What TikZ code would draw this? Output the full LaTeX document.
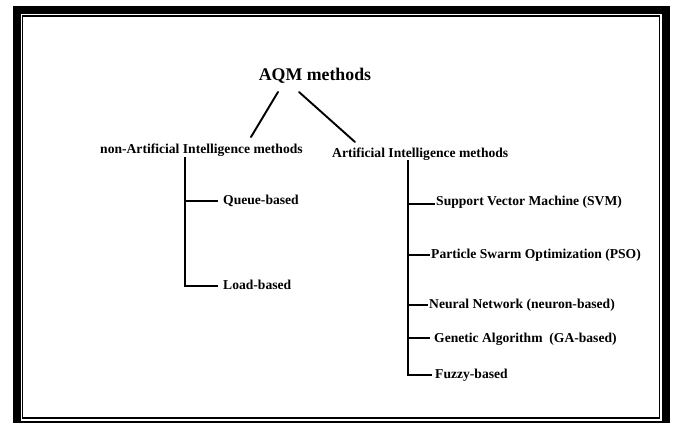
\documentclass[tikz,border=0pt]{standalone}
\usepackage{fontspec}
\setmainfont{Liberation Serif}
\begin{document}
\begin{tikzpicture}[x=1pt,y=-1pt,
  lbl/.style={inner sep=0pt,anchor=base west,font=\fontsize{13.6}{16}\selectfont\bfseries},
  title/.style={inner sep=0pt,anchor=base,font=\fontsize{17.8}{20}\selectfont\bfseries},
  tree/.style={line width=1.9pt,line cap=butt},
  slant/.style={line width=1.9pt,line cap=round}]
\useasboundingbox (0,0) rectangle (673,423);
% frame
\draw[line width=8pt] (16.5,10.3) rectangle (666.3,424.5);
\draw[line width=1.7pt] (22.5,16) rectangle (659.5,418.3);
% nodes
\node[title] (aqm) at (315,80) {AQM methods};
\node[lbl] (nonai) at (100,153) {non-Artificial Intelligence methods};
\node[lbl] (ai) at (332,157) {Artificial Intelligence methods};
\node[lbl] (queue) at (223,204) {Queue-based};
\node[lbl] (load) at (223,289) {Load-based};
\node[lbl] (svm) at (436,205) {Support Vector Machine (SVM)};
\node[lbl] (pso) at (431,258) {Particle Swarm Optimization (PSO)};
\node[lbl] (nn) at (429,308) {Neural Network (neuron-based)};
\node[lbl] (ga) at (434,342) {Genetic Algorithm\ \ (GA-based)};
\node[lbl] (fuzzy) at (435,378) {Fuzzy-based};
% connectors from root
\draw[slant] ([xshift=-37pt,yshift=-12pt]aqm.base) -- ([xshift=151pt,yshift=16pt]nonai.base west);
\draw[slant] ([xshift=-16pt,yshift=-12pt]aqm.base) -- ([xshift=23pt,yshift=15pt]ai.base west);
% left tree
\coordinate (ltop) at ([xshift=85pt,yshift=-4pt]nonai.base west);
\coordinate (qa) at ([xshift=-5pt,yshift=3pt]queue.base west);
\coordinate (la) at ([xshift=-5pt,yshift=3pt]load.base west);
\draw[tree] (ltop) |- (la);
\draw[tree] (ltop |- qa) -- (qa);
% right tree
\coordinate (rtop) at ([xshift=75.7pt,yshift=-3pt]ai.base west);
\coordinate (sa) at ([xshift=-1pt,yshift=1pt]svm.base west);
\coordinate (pa) at ([xshift=-1pt,yshift=3pt]pso.base west);
\coordinate (na) at ([xshift=-1pt,yshift=3pt]nn.base west);
\coordinate (gaa) at ([xshift=-4pt,yshift=4pt]ga.base west);
\coordinate (fa) at ([xshift=-3pt,yshift=3pt]fuzzy.base west);
\draw[tree] (rtop) |- (fa);
\draw[tree] (rtop |- sa) -- (sa);
\draw[tree] (rtop |- pa) -- (pa);
\draw[tree] (rtop |- na) -- (na);
\draw[tree] (rtop |- gaa) -- (gaa);
\end{tikzpicture}
\end{document}
